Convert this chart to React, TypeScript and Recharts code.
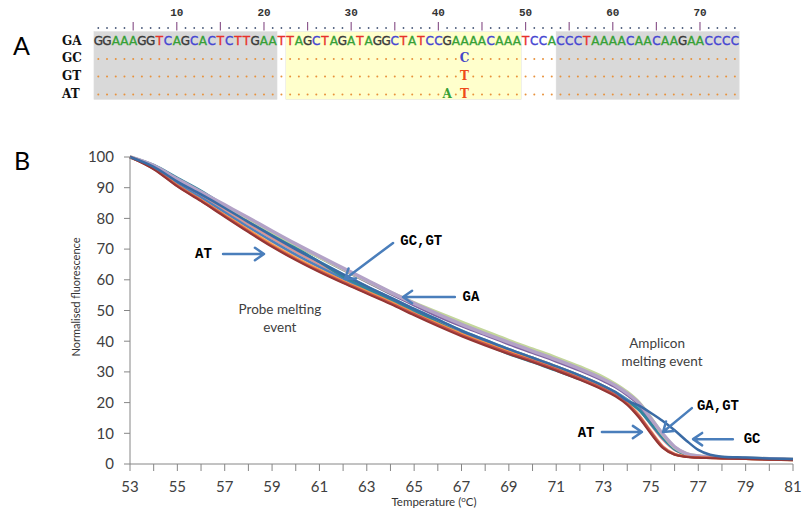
import { LineChart, Line, XAxis, YAxis, ReferenceLine, ReferenceDot } from 'recharts';

// ---------- panel A: alignment ----------
const sequence = 'GGAAAGGTCAGCACTCTTGAATTAGCTAGATAGGCTATCCGAAAACAAATCCACCCTAAAACAACAAGAACCCC';
const rowNames = ['GA', 'GC', 'GT', 'AT'];
const rulerLabels = [10, 20, 30, 40, 50, 60, 70];
const shading = [
  { from: 1, to: 21, color: '#D9D9D9' },
  { from: 23, to: 49, color: '#FFFFCC' },
  { from: 54, to: 74, color: '#D9D9D9' },
];
const mismatches = [
  { row: 1, col: 43, base: 'C' },
  { row: 2, col: 43, base: 'T' },
  { row: 3, col: 41, base: 'A' },
  { row: 3, col: 43, base: 'T' },
];
const baseColors: Record<string, string> = { A: '#35A035', C: '#4646D2', G: '#3A3A3A', T: '#E8302A' };
const mismatchColors: Record<string, string> = { A: '#35A035', C: '#4646C8', T: '#EE4A1A' };

// ---------- panel B: melt curves ----------
const temps = [53, 54, 55, 56, 57, 58, 59, 60, 61, 62, 63, 64, 65, 66, 67, 68, 69, 70, 71, 72, 73,
  73.5, 74, 74.5, 75, 75.5, 76, 76.5, 77, 77.5, 78, 79, 80, 81];

const gaLavender = [100, 97.2, 92.8, 88.6, 84.4, 80.2, 75.9, 71.7, 67.7, 63.8, 59.9, 56, 52.3, 48.8, 45.5, 42.5, 39.6, 36.8, 34, 31, 27.6,
  25.6, 23, 19.8, 14.8, 9.8, 5.6, 3.4, 2.6, 2.3, 2.1, 1.9, 1.7, 1.5];
const gaGreen = [100, 97, 92.5, 88.3, 84.1, 79.9, 75.6, 71.4, 67.4, 63.5, 59.7, 55.9, 52.5, 49.3, 46.2, 43.2, 40.2, 37.4, 34.6, 31.6, 28.2,
  26, 23.4, 20, 15, 9.6, 5.4, 3.3, 2.6, 2.3, 2.1, 1.9, 1.7, 1.5];
const gaPurple = [100, 96.8, 92.2, 88, 83.8, 79.6, 75.4, 71.2, 67.2, 63.2, 59.3, 55.4, 51.7, 48.1, 44.9, 42, 39, 36.2, 33.4, 30.4, 27,
  25, 22.4, 19.2, 14.2, 9.2, 5.2, 3.2, 2.5, 2.2, 2, 1.8, 1.6, 1.4];
const gtTeal = [100, 97.4, 93.2, 89, 84.2, 79.6, 75, 70.5, 65.8, 61, 57.2, 53.7, 50, 46.1, 42.3, 39, 35.8, 33.2, 30.4, 27.6, 24.4,
  22.6, 20.4, 17.6, 13.2, 8.6, 4.8, 3.1, 2.5, 2.2, 2.1, 1.9, 1.7, 1.5];
const gtAqua = [100, 97.2, 92.6, 88.2, 83.6, 79, 74.5, 70.1, 65.9, 61.8, 57.9, 54.2, 50.5, 47, 43.5, 40.4, 37.4, 34.6, 31.8, 28.8, 25.4,
  23.4, 21, 18.2, 13.8, 9.2, 5.2, 3.2, 2.5, 2.2, 2.1, 1.9, 1.7, 1.5];
const gtBlue = [100, 96.6, 91.2, 86.8, 82, 77.2, 72.6, 68.2, 64.2, 60.4, 56.7, 53, 49.3, 45.9, 42.7, 39.8, 37, 34.4, 31.6, 28.6, 25.2,
  23.2, 20.8, 17.6, 13, 8.4, 4.8, 3.1, 2.5, 2.2, 2.1, 1.9, 1.7, 1.5];
const gtPink = [100, 96.8, 91.6, 87.2, 82.6, 78, 73.5, 69.1, 65, 61.1, 57.4, 53.8, 50.1, 46.6, 43.2, 40.2, 37.2, 34.6, 31.8, 28.8, 25.4,
  23.4, 21, 17.8, 12.8, 8, 4.6, 3, 2.4, 2.2, 2.1, 1.9, 1.7, 1.5];
const gcDark = [100, 96.8, 92, 87.8, 83.4, 78.8, 74.3, 69.9, 65.8, 61.8, 57.9, 54.2, 50.5, 47, 43.4, 40.4, 37.4, 34.6, 31.8, 28.8, 25.4,
  23.4, 20.6, 19, 16.6, 14, 11, 7.6, 4.6, 3, 2.4, 2.1, 1.8, 1.6];
const atRed = [100, 96.2, 90.6, 85.8, 80.8, 75.8, 71, 66.7, 62.8, 59.2, 55.8, 52.4, 48.8, 45.3, 42, 39, 36.2, 33.6, 30.8, 27.8, 24.4,
  22.4, 19.6, 15.6, 10.4, 5.6, 3.2, 2.4, 2.1, 2, 1.9, 1.7, 1.5, 1.3];
const atDarkRed = [100, 96, 90.4, 85.6, 80.5, 75.5, 70.7, 66.4, 62.5, 58.9, 55.5, 52.1, 48.4, 44.9, 41.6, 38.6, 35.8, 33.2, 30.4, 27.4, 24,
  22, 19.2, 15, 9.8, 5.2, 3, 2.3, 2, 1.9, 1.8, 1.6, 1.4, 1.3];
const atOrange = [100, 96.4, 90.8, 86, 81.1, 76.2, 71.4, 67.1, 63.2, 59.6, 56.2, 52.8, 49.1, 45.7, 42.4, 39.4, 36.6, 34, 31.2, 28.2, 24.8,
  22.6, 19.8, 15.4, 10.2, 5.4, 3.1, 2.4, 2.1, 2, 1.9, 1.7, 1.5, 1.3];
const atPeach = [100, 96.4, 91, 86.3, 81.5, 76.6, 71.9, 67.6, 63.7, 60, 56.6, 53.2, 49.6, 46.2, 43, 40, 37.2, 34.6, 31.8, 28.8, 25.4,
  23.2, 20.4, 16, 10.8, 5.8, 3.3, 2.5, 2.2, 2, 1.9, 1.7, 1.5, 1.3];

const series = [
  { key: 'gtPink', color: '#D99694', width: 2.5, values: gtPink },
  { key: 'atPeach', color: '#FAC090', width: 2.5, values: atPeach },
  { key: 'gtAqua', color: '#4BACC6', width: 2.5, values: gtAqua },
  { key: 'gtBlue', color: '#4F81BD', width: 2.5, values: gtBlue },
  { key: 'gaPurple', color: '#8064A2', width: 2.5, values: gaPurple },
  { key: 'gtTeal', color: '#31859C', width: 2.5, values: gtTeal },
  { key: 'gaGreen', color: '#C3D69B', width: 3.5, values: gaGreen },
  { key: 'gaLavender', color: '#B3A2C7', width: 3.5, values: gaLavender },
  { key: 'atOrange', color: '#F79646', width: 2.5, values: atOrange },
  { key: 'atRed', color: '#C0504D', width: 2.5, values: atRed },
  { key: 'atDarkRed', color: '#943634', width: 2, values: atDarkRed },
  { key: 'gcDark', color: '#3A6BA5', width: 2.5, values: gcDark },
];

const xTicks = [53, 54, 55, 56, 57, 58, 59, 60, 61, 62, 63, 64, 65, 66, 67, 68, 69, 70, 71, 72, 73, 74, 75, 76, 77, 78, 79, 80, 81];
const yTicks = [0, 10, 20, 30, 40, 50, 60, 70, 80, 90, 100];

// annotation arrows (from -> tip) and labels, in data units
const arrows = [
  { from: [56.93, 68.4], to: [58.66, 68.4] },
  { from: [64.11, 72.0], to: [62.08, 60.3] },
  { from: [66.72, 54.4], to: [64.53, 54.4] },
  { from: [72.93, 10.4], to: [74.62, 10.4] },
  { from: [76.73, 18.2], to: [75.51, 10.4] },
  { from: [78.46, 8.1], to: [76.78, 8.1] },
];
const codeLabels = [
  { text: 'AT', x: 56.1, y: 68.7 },
  { text: 'GC,GT', x: 65.3, y: 73.0 },
  { text: 'GA', x: 67.4, y: 54.7 },
  { text: 'AT', x: 72.26, y: 10.4 },
  { text: 'GA,GT', x: 77.83, y: 19.2 },
  { text: 'GC', x: 79.27, y: 8.5 },
];
const eventLabels = [
  { text: 'Probe melting', x: 59.33, y: 50.5 },
  { text: 'event', x: 59.33, y: 44.6 },
  { text: 'Amplicon', x: 75.26, y: 39.4 },
  { text: 'melting event', x: 75.47, y: 33.55 },
];

const chartData = temps.map((t, i) => {
  const row: Record<string, number> = { t };
  series.forEach((s) => {
    row[s.key] = s.values[i];
  });
  return row;
});

const SANS = 'Lato, "Open Sans", sans-serif';
const MONO = '"Liberation Mono", "Courier New", monospace';
const SLAB = '"DejaVu Serif", "Liberation Serif", serif';

function ArrowShape(props: any) {
  const { x1, y1, x2, y2 } = props;
  const a = Math.atan2(y2 - y1, x2 - x1);
  const len = 11;
  const spread = 0.6;
  const ax = x2 - len * Math.cos(a - spread);
  const ay = y2 - len * Math.sin(a - spread);
  const bx = x2 - len * Math.cos(a + spread);
  const by = y2 - len * Math.sin(a + spread);
  return (
    <path
      d={`M${x1},${y1}L${x2},${y2}M${ax},${ay}L${x2},${y2}L${bx},${by}`}
      stroke="#4A7EBB"
      strokeWidth={2.5}
      fill="none"
      strokeLinecap="round"
      strokeLinejoin="round"
    />
  );
}

const colX = (c: number) => 98.3 + (c - 1) * 8.72;
const rowY = [40, 57.5, 75, 93];

function Alignment() {
  const cols = sequence.split('');
  return (
    <svg width={804} height={130} style={{ position: 'absolute', left: 0, top: 0 }}>
      <text x={13} y={55} fontFamily={SANS} fontSize={25} fill="#000">A</text>
      {shading.map((s, i) => (
        <rect key={i} x={colX(s.from) - 4.36} y={31.5} width={colX(s.to) - colX(s.from) + 8.72} height={68}
          fill={s.color} stroke="#E0E0E0" strokeWidth={0.5} />
      ))}
      {rulerLabels.map((n) => (
        <text key={n} x={colX(n)} y={16} textAnchor="middle" fontFamily={MONO} fontWeight={700} fontSize={11} fill="#333">{n}</text>
      ))}
      {cols.map((_, i) =>
        (i + 1) % 5 === 0 ? (
          <line key={i} x1={colX(i + 1)} x2={colX(i + 1)} y1={22} y2={30.5} stroke="#8E5A8E" strokeWidth={1.2} />
        ) : (
          <circle key={i} cx={colX(i + 1)} cy={28} r={0.9} fill="#4A5A7A" />
        )
      )}
      {rowNames.map((r, ri) => (
        <text key={r} x={62} y={rowY[ri] + 4.5} fontFamily={SLAB} fontWeight={700} fontSize={12} fill="#111">{r}</text>
      ))}
      {cols.map((b, i) => (
        <text key={i} x={colX(i + 1)} y={rowY[0] + 4.5} textAnchor="middle" fontFamily='"DejaVu Sans", Verdana, sans-serif'
          fontSize={12} fill={baseColors[b]} stroke={baseColors[b]} strokeWidth={0.35}>{b}</text>
      ))}
      {[1, 2, 3].map((ri) =>
        cols.map((_, i) => {
          const mm = mismatches.find((m) => m.row === ri && m.col === i + 1);
          if (mm) {
            return (
              <text key={`${ri}-${i}`} x={colX(i + 1)} y={rowY[ri] + 4.5} textAnchor="middle" fontFamily={SLAB}
                fontWeight={700} fontSize={12} fill={mismatchColors[mm.base]}>{mm.base}</text>
            );
          }
          return <circle key={`${ri}-${i}`} cx={colX(i + 1)} cy={rowY[ri] + 1.5} r={1} fill="#E8923C" />;
        })
      )}
    </svg>
  );
}

export default function App() {
  return (
    <div style={{ position: 'absolute', left: 0, top: 0, width: 804, height: 514, background: '#fff' }}>
      <LineChart width={804} height={514} data={chartData} margin={{ top: 157, right: 11, bottom: 10, left: 70 }}>
        <XAxis
          dataKey="t"
          type="number"
          domain={[53, 81]}
          ticks={xTicks}
          interval={0}
          tickFormatter={(v: number) => ((v - 53) % 2 === 0 ? String(v) : '')}
          height={40}
          tickSize={7}
          tickMargin={10}
          stroke="#868686"
          tick={{ fill: '#404040', fontSize: 15, fontFamily: SANS }}
        />
        <YAxis
          type="number"
          domain={[0, 100]}
          ticks={yTicks}
          interval={0}
          width={60}
          tickSize={6}
          tickMargin={10}
          stroke="#868686"
          tick={{ fill: '#404040', fontSize: 15, fontFamily: SANS }}
        />
        {series.map((s) => (
          <Line
            key={s.key}
            dataKey={s.key}
            type="monotone"
            stroke={s.color}
            strokeWidth={s.width}
            dot={false}
            activeDot={false}
            isAnimationActive={false}
          />
        ))}
        {arrows.map((a, i) => (
          <ReferenceLine
            key={`arrow-${i}`}
            segment={[{ x: a.from[0], y: a.from[1] }, { x: a.to[0], y: a.to[1] }]}
            shape={ArrowShape}
          />
        ))}
        {codeLabels.map((l, i) => (
          <ReferenceDot
            key={`code-${i}`}
            x={l.x}
            y={l.y}
            r={1}
            fill="none"
            stroke="none"
            label={{ value: l.text, position: 'center', fill: '#000', fontSize: 14, fontWeight: 700, fontFamily: MONO }}
          />
        ))}
        {eventLabels.map((l, i) => (
          <ReferenceDot
            key={`event-${i}`}
            x={l.x}
            y={l.y}
            r={1}
            fill="none"
            stroke="none"
            label={{ value: l.text, position: 'center', fill: '#404040', fontSize: 13.5, fontFamily: SANS }}
          />
        ))}
      </LineChart>
      <svg width={804} height={514} style={{ position: 'absolute', left: 0, top: 0, pointerEvents: 'none' }}>
        <text x={14} y={170} fontFamily={SANS} fontSize={25} fill="#000">B</text>
        <text x={77} y={297} transform="rotate(-90 77 297)" textAnchor="middle" dominantBaseline="middle"
          fontFamily={SANS} fontSize={11} fill="#333">Normalised fluorescence</text>
        <text x={434} y={506} textAnchor="middle" fontFamily={SANS} fontSize={11.5} fill="#333">
          Temperature (<tspan fontSize={8} dy={-4}>o</tspan><tspan dy={4}>C)</tspan>
        </text>
      </svg>
      <Alignment />
    </div>
  );
}
